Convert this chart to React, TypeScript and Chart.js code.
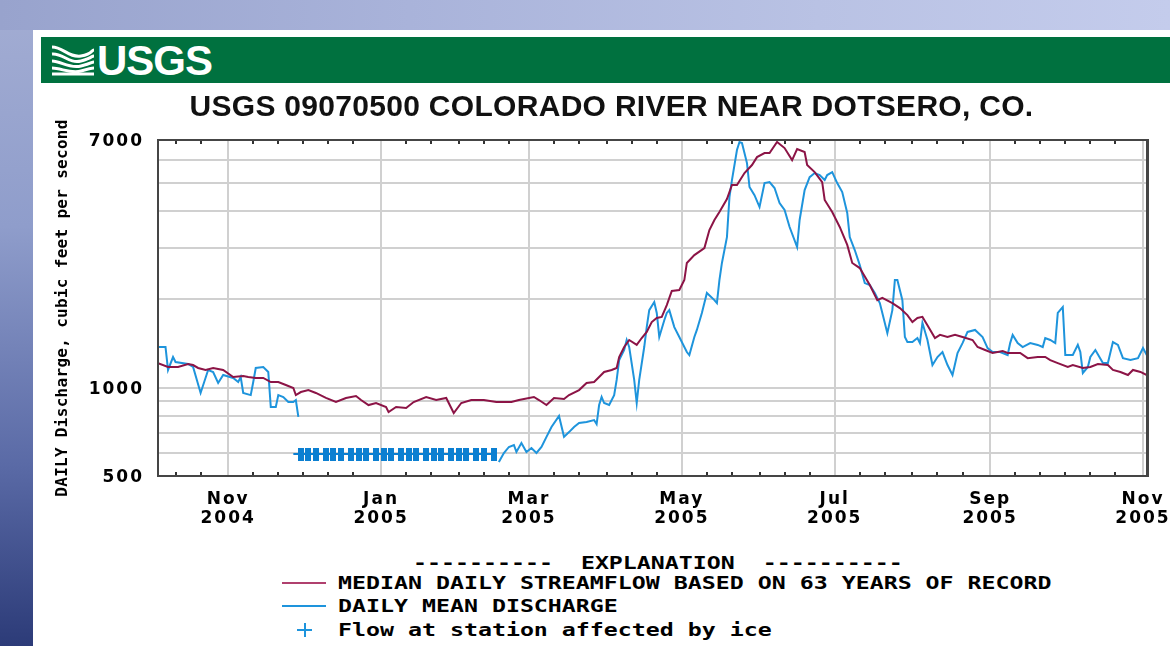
import React, { useEffect, useRef } from "react";
import { Chart, registerables } from "chart.js";

Chart.register(...registerables);

// ---- axis definitions (days counted from 1 Oct 2004) ----
const monthStartDays = [0, 31, 61, 92, 123, 151, 182, 212, 243, 273, 304, 335, 365, 396];
const majorTickDays = [31, 92, 151, 212, 273, 335, 396];
const majorTickLabels = [
  ["Nov", "2004"],
  ["Jan", "2005"],
  ["Mar", "2005"],
  ["May", "2005"],
  ["Jul", "2005"],
  ["Sep", "2005"],
  ["Nov", "2005"],
];
const xMinDay = 3;
const xMaxDay = 397.6;
const yGridValues = [500, 600, 700, 800, 900, 1000, 2000, 3000, 4000, 5000, 6000, 7000];
const yLabelValues = [500, 1000, 7000];

// ---- daily mean discharge (cfs) ----
const meanDays = [
  3, 6, 7, 9, 10, 15, 17, 20, 23, 25, 27, 29, 33, 35, 36, 37, 40, 41, 42, 45, 47, 48, 50, 51, 53, 55, 57, 58, 59,
  100,
  139, 141, 143, 145, 146, 148, 150, 152, 154, 156, 158, 160, 163, 165, 167, 169, 171, 174, 177, 178, 179, 180,
  181, 183, 185, 186, 187, 189, 190, 191, 193, 194, 195, 197, 198, 199, 201, 202, 203, 205, 206, 207, 209, 211,
  214, 215, 217, 218, 220, 222, 225, 226, 227, 228, 230, 231, 232, 234, 235, 236, 238, 239, 241, 243, 245, 247,
  249, 251, 253, 255, 258, 259, 261, 263, 265, 267, 269, 270, 272, 274, 276, 278, 279, 281, 283, 285, 287, 289,
  291, 292, 294, 296, 297, 298, 300, 301, 302, 304, 306, 307, 308, 310, 312, 314, 316, 318, 320, 322, 324, 326,
  329, 332, 334, 336, 339, 342, 343, 344, 346, 348, 351, 354, 356, 357, 359, 361, 362, 364, 365, 368, 370, 371,
  372, 374, 375, 377, 380, 382, 384, 386, 388, 391, 394, 396, 397.5,
];
const meanFlow = [
  1377, 1377, 1150, 1273, 1224, 1205, 1177, 960, 1150, 1132, 1038, 1105, 1080, 1046, 1088, 960, 944, 1046, 1168,
  1177, 1132, 860, 860, 944, 930, 894, 894, 908, 795,
  null,
  558, 599, 628, 638, 604, 648, 604, 623, 599, 628, 680, 735, 801, 680, 706, 735, 758, 764, 776, 752, 873, 930,
  887, 873, 944, 1063, 1243, 1345, 1455, 1377, 1063, 887, 1063, 1377, 1610, 1840, 1960, 1800, 1490, 1700, 1800,
  1840, 1610, 1490, 1324, 1293, 1490, 1575, 1800, 2105, 1990, 1945, 2330, 2665, 3265, 4470, 5110, 6470, 6890,
  6835, 5840, 4840, 4540, 4135, 4990, 5030, 4800, 4265, 4040, 3535, 3020, 3735, 4725, 5230, 5400, 5315, 5110,
  5315, 5440, 4990, 4650, 3945, 3265, 2950, 2620, 2275, 2240, 2105, 1945, 1800, 1535, 1840, 2330, 2330, 1990,
  1490, 1432, 1432, 1478, 1420, 1665, 1455, 1195, 1273, 1324, 1195, 1105, 1314, 1420, 1550, 1575, 1490, 1366,
  1324, 1324, 1293, 1420, 1515, 1420, 1377, 1420, 1400, 1377, 1478, 1455, 1420, 1800, 1885, 1293, 1293, 1400,
  1324, 1123, 1177, 1273, 1345, 1214, 1214, 1432, 1400, 1262, 1243, 1262, 1366, 1293,
];

// ---- median daily streamflow (cfs) ----
const medianDays = [
  3, 7, 11, 15, 17, 19, 22, 25, 29, 33, 37, 39, 42, 45, 48, 51, 54, 57, 58, 60, 63, 66, 70, 74, 78, 82, 84, 87,
  90, 94, 95, 98, 102, 105, 110, 114, 118, 121, 124, 128, 133, 138, 144, 147, 153, 155, 158, 161, 165, 167, 171,
  174, 177, 179, 181, 184, 186, 187, 189, 191, 194, 196, 198, 200, 202, 204, 206, 208, 211, 213, 214, 217, 221,
  223, 225, 227, 230, 232, 234, 237, 240, 242, 245, 247, 250, 253, 256, 258, 261, 262, 265, 268, 269, 272, 275,
  278, 280, 283, 287, 290, 292, 296, 299, 302, 304, 306, 308, 310, 313, 315, 318, 321, 324, 328, 330, 333, 336,
  340, 342, 347, 350, 354, 357, 359, 362, 366, 368, 372, 375, 378, 382, 384, 387, 390, 392, 395, 397.5,
];
const medianFlow = [
  1214, 1177, 1177, 1205, 1195, 1168, 1150, 1168, 1150, 1088, 1096, 1088, 1080, 1080, 1046, 1046, 1022, 998, 944,
  967, 982, 960, 923, 894, 923, 937, 908, 873, 887, 860, 826, 860, 853, 894, 930, 908, 923, 820, 887, 908, 908,
  894, 894, 908, 930, 908, 873, 923, 915, 944, 982, 1038, 1046, 1088, 1132, 1150, 1168, 1273, 1377, 1455, 1400,
  1478, 1550, 1675, 1730, 1745, 1915, 2140, 2155, 2330, 2665, 2835, 2995, 3450, 3735, 3975, 4400, 4915, 4915,
  5400, 5750, 6120, 6320, 6320, 6890, 6570, 5980, 6520, 6370, 5750, 5440, 5030, 4370, 3975, 3535, 3070, 2665,
  2560, 2240, 1990, 2025, 1945, 1870, 1770, 1675, 1730, 1745, 1635, 1478, 1515, 1490, 1515, 1490, 1455, 1377,
  1345, 1314, 1334, 1314, 1314, 1262, 1273, 1273, 1243, 1214, 1177, 1195, 1168, 1177, 1205, 1195, 1150, 1132,
  1105, 1150, 1132, 1105,
];

// ---- ice-affected flow ----
const iceDays = [57, 60, 63, 66, 70, 73, 76, 80, 83, 86, 90, 93, 96, 100, 103, 106, 110, 113, 116, 120, 123, 126, 130, 133, 137];
const iceFlow = [594, 594, 594, 594, 594, 594, 594, 594, 594, 594, 594, 594, 594, 594, 594, 594, 594, 594, 594, 594, 594, 594, 594, 594, 594];

const chartTitle = "USGS 09070500 COLORADO RIVER NEAR DOTSERO, CO.";
const yAxisTitle = "DAILY Discharge, cubic feet per second";
const legendTitle = "----------  EXPLANATION  ----------";
const medianLabel = "MEDIAN DAILY STREAMFLOW BASED ON 63 YEARS OF RECORD";
const meanLabel = "DAILY MEAN DISCHARGE";
const iceLabel = "Flow at station affected by ice";

const MEDIAN_COLOR = "#8c1446";
const MEAN_COLOR = "#1e94dc";
const ICE_COLOR = "#0b7fd1";
const MONO = '"DejaVu Sans Mono", "Liberation Mono", monospace';
const TICK_FONT = '"DejaVu Sans", "Liberation Sans", sans-serif';

const framePlugin = {
  id: "usgsFrame",
  beforeDraw(chart: any) {
    chart.ctx.letterSpacing = "0.3px";
  },
  afterDatasetsDraw(chart: any) {
    const { ctx, chartArea: a, scales } = chart;
    const xs = scales.x;
    ctx.save();
    ctx.fillStyle = "#333";
    for (const m of monthStartDays) {
      for (const off of [0, 10, 20]) {
        const d = m + off;
        if (d <= xs.min || d >= xs.max || majorTickDays.includes(d)) continue;
        const px = Math.round(xs.getPixelForValue(d));
        ctx.fillRect(px - 1, a.bottom - 4, 2, 4);
        ctx.fillRect(px - 1, a.top, 2, 4);
      }
    }
    ctx.strokeStyle = "#454545";
    ctx.lineWidth = 2;
    ctx.strokeRect(a.left, a.top, a.right - a.left, a.bottom - a.top);
    ctx.fillStyle = "#454545";
    ctx.fillRect(a.right - 1, a.top - 1, 3, a.bottom - a.top + 2);
    ctx.restore();
    ctx.letterSpacing = "2px";
  },
  afterDraw(chart: any) {
    chart.ctx.letterSpacing = "0px";
  },
};

export default function App() {
  const canvasRef = useRef<HTMLCanvasElement>(null);

  useEffect(() => {
    const marker = document.createElement("canvas");
    marker.width = 6;
    marker.height = 13;
    const mctx = marker.getContext("2d")!;
    mctx.fillStyle = ICE_COLOR;
    mctx.fillRect(0, 0, 6, 13);

    const chart = new Chart(canvasRef.current!, {
      type: "line",
      data: {
        datasets: [
          {
            label: medianLabel,
            data: medianDays.map((d, i) => ({ x: d, y: medianFlow[i] })),
            borderColor: MEDIAN_COLOR,
            borderWidth: 2,
            pointRadius: 0,
            tension: 0,
          },
          {
            label: meanLabel,
            data: meanDays.map((d, i) => ({ x: d, y: meanFlow[i] })),
            borderColor: MEAN_COLOR,
            borderWidth: 2,
            pointRadius: 0,
            spanGaps: false,
            tension: 0,
          },
          {
            label: iceLabel,
            data: iceDays.map((d, i) => ({ x: d, y: iceFlow[i] })),
            borderColor: ICE_COLOR,
            borderWidth: 2,
            pointStyle: marker as any,
            pointRadius: (c: any) => (c.dataIndex === 0 ? 0 : 6),
            tension: 0,
          },
        ],
      },
      options: {
        responsive: false,
        animation: false,
        events: [],
        layout: { padding: { left: 76, right: 43, top: 80, bottom: 22 } },
        plugins: {
          legend: { display: false },
          tooltip: { enabled: false },
          title: {
            display: true,
            text: chartTitle,
            color: "#111",
            font: { family: '"Liberation Sans", Arial, sans-serif', size: 30, weight: "bold", lineHeight: 1.2 },
            padding: { top: 10, bottom: 14 },
          },
        },
        scales: {
          x: {
            type: "linear",
            min: xMinDay,
            max: xMaxDay,
            afterBuildTicks: (s: any) => {
              s.ticks = majorTickDays.map((v) => ({ value: v }));
            },
            afterFit: (s: any) => {
              s.height = 50;
            },
            ticks: {
              autoSkip: false,
              maxRotation: 0,
              minRotation: 0,
              padding: 14,
              z: 1,
              color: "#000",
              font: { family: TICK_FONT, size: 17, weight: "bold", lineHeight: 1.12 },
              callback: (v: any) => {
                const i = majorTickDays.indexOf(v);
                return i >= 0 ? majorTickLabels[i] : "";
              },
            },
            grid: { color: "#d0d0d0", lineWidth: 2, drawTicks: false },
            border: { display: false },
          },
          y: {
            type: "logarithmic",
            min: 500,
            max: 7000,
            afterBuildTicks: (s: any) => {
              s.ticks = yGridValues.map((v) => ({ value: v }));
            },
            afterFit: (s: any) => {
              s.width = 82;
            },
            ticks: {
              autoSkip: false,
              padding: 14,
              labelOffset: 2,
              z: 1,
              color: "#000",
              font: { family: TICK_FONT, size: 17, weight: "bold" },
              callback: (v: any) => (yLabelValues.includes(v) ? String(v) : ""),
            },
            grid: { color: "#d0d0d0", lineWidth: 2, drawTicks: false },
            border: { display: false },
            title: {
              display: true,
              text: yAxisTitle,
              color: "#000",
              font: { family: MONO, size: 16, weight: "bold", lineHeight: 1.2 },
              padding: { top: -22.6, bottom: 0 },
            },
          },
        },
      },
      plugins: [framePlugin],
    } as any);
    return () => chart.destroy();
  }, []);

  const legendText: React.CSSProperties = {
    position: "absolute",
    fontFamily: MONO,
    fontWeight: "bold",
    fontSize: 17,
    lineHeight: "20px",
    color: "#000",
    whiteSpace: "pre",
    transform: "scaleX(1.367)",
    transformOrigin: "0 50%",
  };

  return (
    <div
      style={{
        position: "fixed",
        left: 0,
        top: 0,
        width: 1170,
        height: 646,
        overflow: "hidden",
        background: "linear-gradient(180deg, #a3add3 0%, #8f9dcb 35%, #5a6aa6 72%, #2c3b78 100%)",
      }}
    >
      <div
        style={{
          position: "absolute",
          left: 0,
          top: 0,
          width: 1170,
          height: 30,
          background: "linear-gradient(90deg, #98a3cd 0%, #a9b3da 35%, #b9c2e4 70%, #c4ccec 100%)",
        }}
      />
      <div style={{ position: "absolute", left: 33, top: 30, right: 0, bottom: 0, background: "#fff" }} />
      <div style={{ position: "absolute", left: 41, top: 37, width: 1129, height: 46, background: "#00713f" }}>
        <svg width="44" height="32" style={{ position: "absolute", left: 10, top: 7 }} viewBox="0 0 44 32">
          <g fill="none" stroke="#fff" strokeWidth="3">
            <path d="M1 3 C12 3 18 14 30 12 S40 6 43 6" />
            <path d="M1 10 C12 9 18 20 30 17 S40 12 43 12" />
            <path d="M1 17 C10 17 18 25 30 22 S40 18 43 18" />
            <path d="M1 24 C10 24 20 30 30 27 S40 24 43 24" />
            <path d="M1 30 L43 30" />
          </g>
        </svg>
        <span
          style={{
            position: "absolute",
            left: 56,
            top: 3,
            fontFamily: '"Liberation Sans", Arial, sans-serif',
            fontWeight: "bold",
            fontSize: 42,
            lineHeight: "42px",
            letterSpacing: "-1px",
            color: "#fff",
          }}
        >
          USGS
        </span>
      </div>
      <canvas
        ref={canvasRef}
        width={1190}
        height={548}
        style={{ position: "absolute", left: 0, top: 0, width: 1190, height: 548 }}
      />
      <div style={{ ...legendText, left: 413, top: 553 }}>{legendTitle}</div>
      <div style={{ position: "absolute", left: 282, top: 582, width: 44, height: 1.5, background: "#b0406e" }} />
      <div style={{ ...legendText, left: 338, top: 573 }}>{medianLabel}</div>
      <div style={{ position: "absolute", left: 282, top: 605, width: 44, height: 1.5, background: MEAN_COLOR }} />
      <div style={{ ...legendText, left: 338, top: 596 }}>{meanLabel}</div>
      <div style={{ position: "absolute", left: 297, top: 629, width: 15, height: 2, background: MEAN_COLOR }} />
      <div style={{ position: "absolute", left: 303.5, top: 623, width: 2, height: 14, background: MEAN_COLOR }} />
      <div style={{ ...legendText, left: 338, top: 620 }}>{iceLabel}</div>
    </div>
  );
}
